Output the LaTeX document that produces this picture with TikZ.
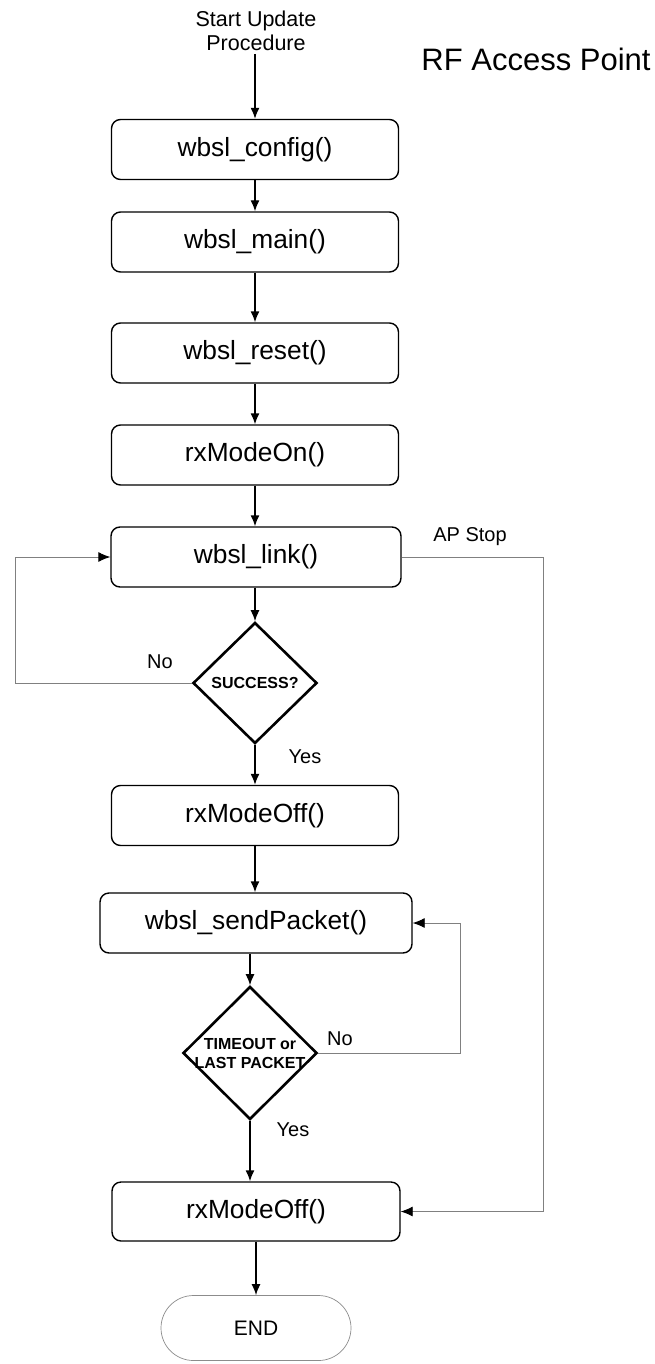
\documentclass[tikz,border=0pt]{standalone}
\usepackage{fontspec}
\setmainfont{Liberation Sans}
\usetikzlibrary{shapes.geometric,shapes.misc,arrows.meta}
\begin{document}
\begin{tikzpicture}[x=1pt,y=-1pt,
  box/.style={draw, line width=1.4pt, rounded corners=9pt, minimum width=287pt, minimum height=60pt, inner sep=0pt, font=\fontsize{26.3}{30}\selectfont},
  dec/.style={draw, diamond, line width=2.6pt, inner sep=0pt},
  dectext/.style={font=\bfseries\fontsize{16}{19}\selectfont, align=center, inner sep=0pt},
  lbl/.style={font=\fontsize{20}{24}\selectfont, inner sep=0pt},
  arr/.style={-{Latex[length=11pt,width=9pt]}, line width=1.4pt},
  gline/.style={line width=0.9pt, draw=black!50, -{Latex[length=12pt,width=10pt,color=black]}},
  term/.style={draw=black!45, line width=0.7pt, rounded rectangle, minimum width=190pt, minimum height=65pt, inner sep=0pt, font=\fontsize{21}{25}\selectfont}
]
\useasboundingbox (0,0) rectangle (655,1364);
\fill[white] (0,0) rectangle (655,1364);

\node[font=\fontsize{21.5}{24}\selectfont, inner sep=0pt, align=center] (start) at (256,31) {Start Update\\Procedure};
\coordinate (s0) at (255,54);
\node[font=\fontsize{31}{36}\selectfont, inner sep=0pt] (title) at (536,59) {RF Access Point};

\node[box] (config) at (255,149.5) {wbsl\_config()};
\node[box] (main) at (255,242) {wbsl\_main()};
\node[box] (reset) at (255,353) {wbsl\_reset()};
\node[box] (rxon) at (255,455) {rxModeOn()};
\node[box, minimum width=290pt] (link) at (256,557) {wbsl\_link()};
\node[dec, minimum width=124pt, minimum height=121pt] (succ) at (255,683) {};
\node[dectext] (succt) at (255,683) {SUCCESS?};
\node[box] (rxoff1) at (255,815.5) {rxModeOff()};
\node[box, minimum width=312pt] (send) at (256,923) {wbsl\_sendPacket()};
\node[dec, minimum width=134pt, minimum height=133pt] (tout) at (250,1053) {};
\node[dectext] (toutt) at (250,1053) {TIMEOUT or\\LAST PACKET};
\node[box, minimum width=288pt, minimum height=59pt] (rxoff2) at (256,1211.5) {rxModeOff()};
\node[term] (end) at (256,1328) {END};

\node[lbl] (no1) at (160,662) {No};
\node[lbl] (yes1) at (305,757) {Yes};
\node[lbl] (apstop) at (470,537) {AP Stop};
\node[lbl] (no2) at (340,1039) {No};
\node[lbl] (yes2) at (293,1130) {Yes};

\draw[arr] (s0) -- (config.north);
\draw[arr] (config.south) -- (main.north);
\draw[arr] (main.south) -- (reset.north);
\draw[arr] (reset.south) -- (rxon.north);
\draw[arr] (rxon.south) -- (rxon.south |- link.north);
\draw[arr] (rxon.south |- link.south) -- (succ.north);
\draw[arr] (succ.south) -- (rxoff1.north);
\draw[arr] (rxoff1.south) -- (rxoff1.south |- send.north);
\draw[arr] (tout.north |- send.south) -- (tout.north);
\draw[arr] (tout.south) -- (tout.south |- rxoff2.north);
\draw[arr] (rxoff2.south) -- (end.north);

\coordinate (lx) at (15,683);
\draw[gline] (succ.west) -- (lx) |- (link.west);
\coordinate (rx) at (543,557);
\draw[gline] (link.east) -- (rx) |- (rxoff2.east);
\coordinate (tx) at (460,1053);
\draw[gline] (tout.east) -- (tx) |- (send.east);
\end{tikzpicture}
\end{document}
